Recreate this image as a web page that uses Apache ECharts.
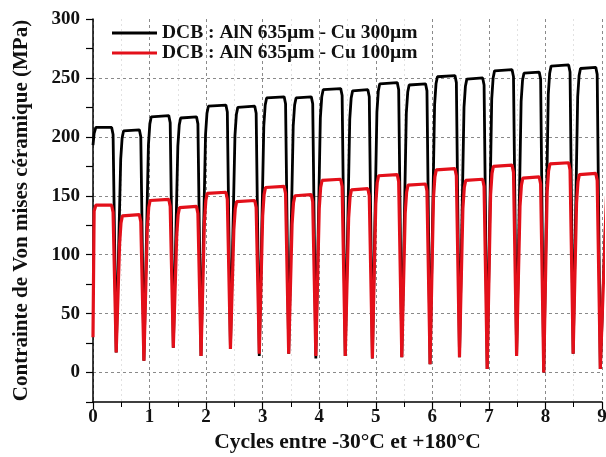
<!DOCTYPE html>
<html><head><meta charset="utf-8">
<script src="https://cdn.jsdelivr.net/npm/echarts@6/dist/echarts.min.js"></script>
<style>html,body{margin:0;padding:0;background:#fff}#c{width:606px;height:457px}</style>
</head><body><div id="c"></div>
<script>
// ---- data ----
const seriesNames = ['DCB : AlN 635µm - Cu 300µm', 'DCB : AlN 635µm - Cu 100µm'];
const xTicks = [0, 1, 2, 3, 4, 5, 6, 7, 8, 9];
const yTicks = [0, 50, 100, 150, 200, 250, 300];
// time of each stress dip (cycles)
const dipTimes = [0.41, 0.90, 1.42, 1.91, 2.43, 2.94, 3.46, 3.94, 4.46, 4.94, 5.46, 5.96, 6.48, 6.97, 7.49, 7.97, 8.49, 8.97];
// plateau values (MPa) for each half-cycle
const blackPlateau = [208, 206, 218, 217, 227, 226, 234, 234, 241, 240, 246, 245, 252, 250, 257, 255, 261, 259];
const blackDip     = [17, 10, 21, 14, 20, 14, 16, 12, 14, 12, 13, 7, 13, 3, 14, 0, 16, 3];
const redPlateau   = [142, 134, 147, 141, 153, 146, 158, 151, 164, 156, 168, 160, 173, 164, 176, 166, 178, 169];
const redDip       = [17, 10, 21, 14, 20, 16, 16, 14, 14, 12, 13, 7, 13, 3, 14, 0, 16, 3];
const blackStart = 193;
const redStart = 30;

function build(start, plateau, dips, lag) {
  const pts = [[0, start], [0.02, plateau[0] - 5], [0.05, plateau[0]]];
  for (let k = 0; k < dipTimes.length; k++) {
    const P = plateau[k], d = dipTimes[k];
    if (k > 0) {
      const dp = dipTimes[k - 1];
      pts.push([dp + 0.06 + lag, P - 25], [dp + 0.085 + lag, P - 7], [dp + 0.11 + lag, P - 1], [dp + 0.14 + lag, P]);
    }
    pts.push([d - 0.08, P], [d - 0.055, P - 6], [d, dips[k]]);
  }
  pts.push([9.08, 150]);
  return pts;
}

const font = 'Liberation Serif, DejaVu Serif, serif';
const chart = echarts.init(document.getElementById('c'), null, {renderer: 'canvas'});
chart.setOption({
  animation: false,
  backgroundColor: '#fff',
  grid: {left: 93, right: 4, top: 19, bottom: 55, containLabel: false, outerBoundsMode: 'none'},
  legend: {
    orient: 'vertical', left: 107, top: 18, itemWidth: 45, itemHeight: 3, itemGap: 0,
    icon: 'rect',
    textStyle: {fontFamily: font, fontWeight: 'bold', fontSize: 19.5, lineHeight: 20, color: '#111'},
    data: seriesNames
  },
  xAxis: {
    type: 'value', min: 0, max: 9, interval: 1,
    name: 'Cycles entre -30°C et +180°C', nameLocation: 'middle', nameGap: 27,
    nameTextStyle: {fontFamily: font, fontWeight: 'bold', fontSize: 21.5, color: '#111'},
    axisLine: {show: true, onZero: false, lineStyle: {color: '#000', width: 1.5}},
    axisTick: {show: true, length: 7, lineStyle: {color: '#000', width: 1.2}},
    minorTick: {show: true, splitNumber: 2, length: 5, lineStyle: {color: '#000'}},
    axisLabel: {fontFamily: font, fontWeight: 'bold', fontSize: 19, color: '#111', margin: 6,
      formatter: v => xTicks.indexOf(v) >= 0 ? String(v) : ''},
    splitLine: {show: true, lineStyle: {color: '#8a8a8a', type: [3, 3], width: 1}},
    minorSplitLine: {show: true, lineStyle: {color: '#e2e2e2', type: [2, 3], width: 1}}
  },
  yAxis: {
    type: 'value', min: -25, max: 300, interval: 25,
    name: 'Contrainte de Von mises céramique (MPa)', nameLocation: 'middle', nameGap: 61, nameRotate: 90,
    nameTextStyle: {fontFamily: font, fontWeight: 'bold', fontSize: 21, color: '#111'},
    axisLine: {show: true, onZero: false, lineStyle: {color: '#000', width: 1.5}},
    axisTick: {show: true, length: 7, lineStyle: {color: '#000', width: 1.2}},
    axisLabel: {fontFamily: font, fontWeight: 'bold', fontSize: 19, color: '#111', margin: 13,
      formatter: v => yTicks.indexOf(v) >= 0 ? String(v) : ''},
    splitLine: {show: true, showMinLine: true, showMaxLine: false, lineStyle: {color: ['rgba(0,0,0,0)', '#8a8a8a'], type: [3, 3], width: 1}}
  },
  series: [
    {name: seriesNames[0], type: 'line', symbol: 'none', clip: true,
     lineStyle: {color: '#000', width: 2.8}, itemStyle: {color: '#000'},
     data: build(blackStart, blackPlateau, blackDip, 0.02)},
    {name: seriesNames[1], type: 'line', symbol: 'none', clip: true,
     lineStyle: {color: '#e3101a', width: 3.2}, itemStyle: {color: '#e3101a'},
     data: build(redStart, redPlateau, redDip, 0)}
  ]
});
</script></body></html>
